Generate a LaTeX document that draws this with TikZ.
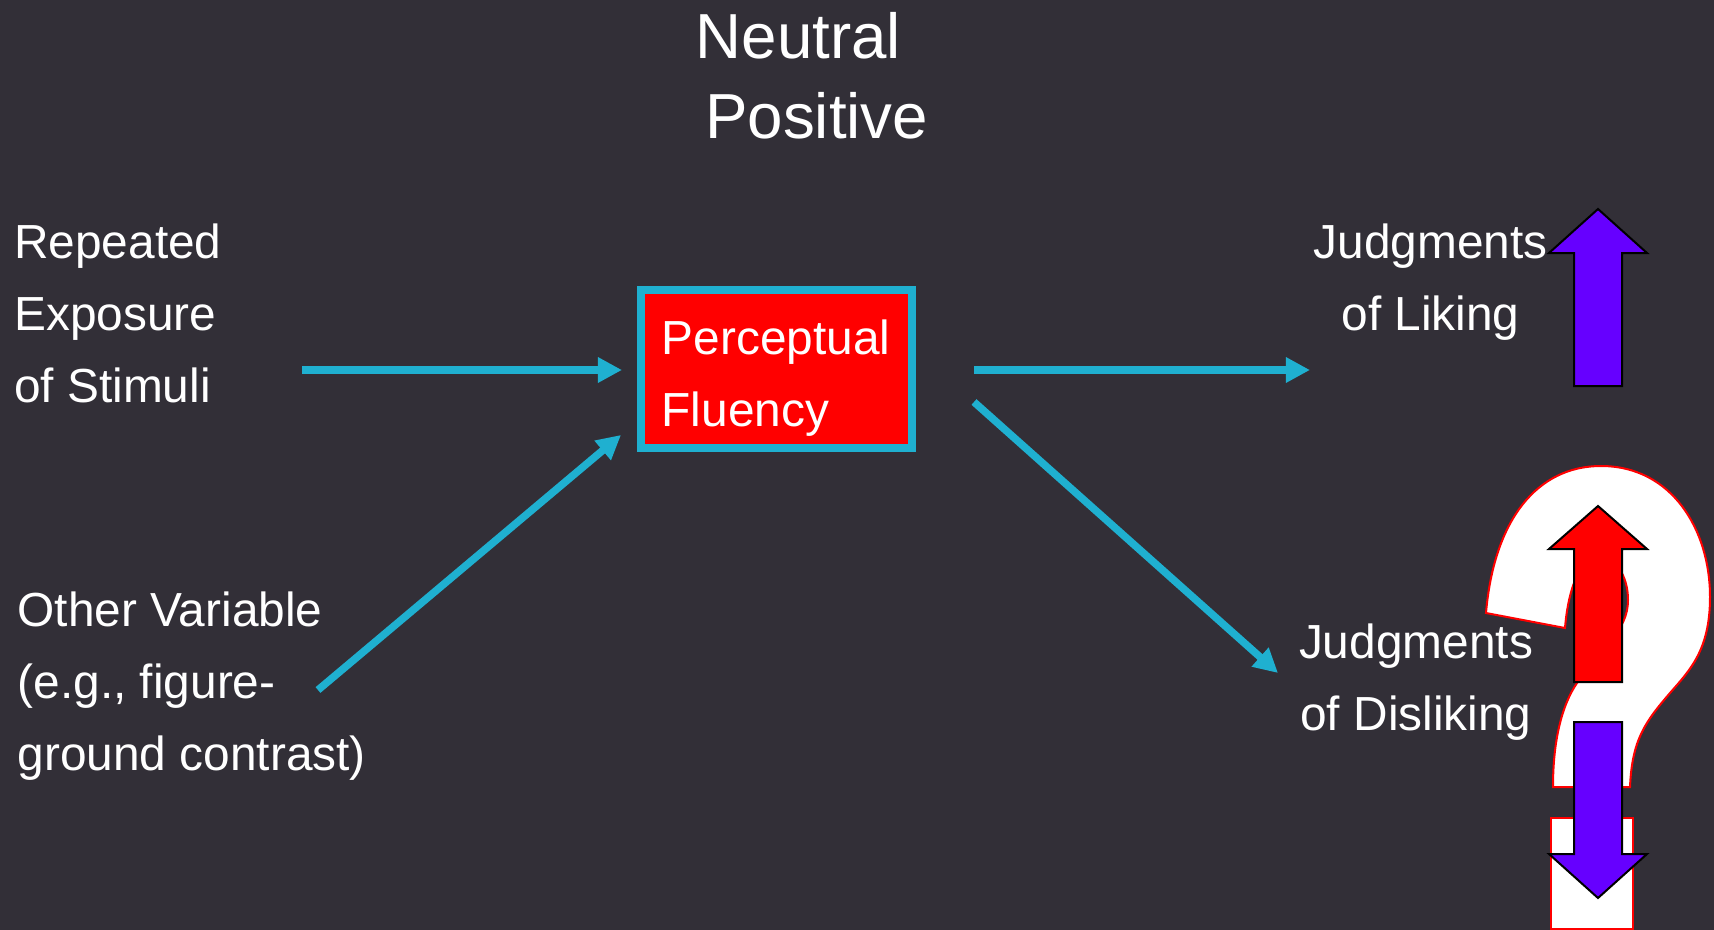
\documentclass[tikz,border=0pt]{standalone}
\usepackage{fontspec}
\setmainfont{Liberation Sans}
\usetikzlibrary{arrows.meta}
\definecolor{slidebg}{HTML}{322F37}
\definecolor{linkblue}{HTML}{1FB0D0}
\definecolor{upviolet}{HTML}{6600FF}

\begin{document}
\begin{tikzpicture}[x=0.01cm, y=-0.01cm, >={Triangle[length=0.24cm, width=0.24cm]},
  phrase/.style={text=white, inner sep=0pt, align=left, anchor=north west,
    font=\fontsize{13.6pt}{20.47pt}\selectfont},
  headline/.style={text=white, inner sep=0pt, anchor=base west, font=\fontsize{18.1pt}{21pt}\selectfont},
  link/.style={->, draw=linkblue, line width=0.075cm},
  updown/.style={draw=black, line width=0.02cm, line join=miter},
  qmark/.style={draw=red, fill=white, line width=0.02cm}]
\fill[slidebg] (0,0) rectangle (1714,930);
\useasboundingbox (0,0) rectangle (1714,930);

\node[headline] (neutral) at (695,58) {Neutral};
\node[headline] (positive) at (704.5,138) {Positive};

\node[phrase] (exposure) at (13.5,223.5) {Repeated\\Exposure\\of Stimuli};
\node[phrase] (other) at (17,591.5) {Other Variable\\(e.g., figure-\\ground contrast)};
\node[draw=linkblue, fill=red, line width=0.08cm, minimum width=2.71cm, minimum height=1.58cm] (fluency) at (776.5,369) {};
\node[phrase] (fluencyText) at (661,319.5) {Perceptual\\Fluency};
\node[phrase, align=center, anchor=north] (liking) at (1430.5,223.5) {Judgments\\of Liking};
\node[phrase, align=center, anchor=north] (disliking) at (1416,623.5) {Judgments\\of Disliking};

\coordinate (expoEnd) at (302,370);
\coordinate (fluIn) at (622,370);
\coordinate (otherEnd) at (318,690);
\coordinate (fluInLow) at (621,435);
\coordinate (fluOut) at (974,370);
\coordinate (likeIn) at (1310,370);
\coordinate (fluOutLow) at (974,402);
\coordinate (dislikeIn) at (1278,673);
\draw[link] (expoEnd) -- (fluIn);
\draw[link] (otherEnd) -- (fluInLow);
\draw[link] (fluOut) -- (likeIn);
\draw[link] (fluOutLow) -- (dislikeIn);

\draw[qmark] (1486,613) .. controls (1494,520) and (1537,466) .. (1601,466)
  .. controls (1672,466) and (1710,530) .. (1710,597)
  .. controls (1710,650) and (1690,670) .. (1670,693)
  .. controls (1645,722) and (1632,740) .. (1630,787)
  -- (1553,787) .. controls (1553,740) and (1562,705) .. (1577,683)
  -- (1610,640) .. controls (1622,628) and (1628,615) .. (1628,600)
  .. controls (1628,575) and (1615,557) .. (1598,557)
  .. controls (1580,557) and (1568,590) .. (1565,628) -- cycle;
\draw[qmark] (1551,818) rectangle (1633,929);

\draw[updown, fill=upviolet] (1598,209) -- (1647,253) -- (1622,253) -- (1622,386)
  -- (1574,386) -- (1574,253) -- (1549,253) -- cycle;
\draw[updown, fill=red] (1598,506) -- (1647,549) -- (1622,549) -- (1622,682)
  -- (1574,682) -- (1574,549) -- (1549,549) -- cycle;
\draw[updown, fill=upviolet] (1598,898) -- (1647,854) -- (1622,854) -- (1622,722)
  -- (1574,722) -- (1574,854) -- (1549,854) -- cycle;
\end{tikzpicture}
\end{document}
